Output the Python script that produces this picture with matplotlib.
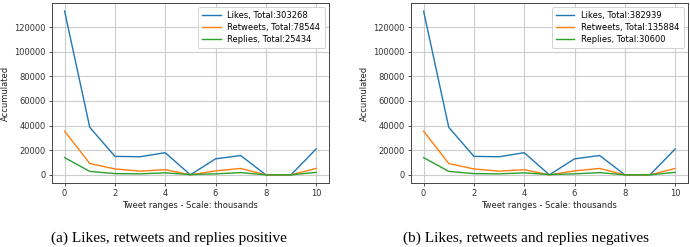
import matplotlib
matplotlib.use("Agg")
import matplotlib.pyplot as plt

x = list(range(11))
likes = [133000, 38600, 15000, 14700, 18000, 0, 13000, 15700, 0, 0, 21000]
retweets = [35500, 9200, 4800, 3000, 4200, 0, 3200, 5200, 0, 0, 5200]
replies = [14000, 2800, 1000, 800, 1600, 200, 800, 1800, 0, 0, 2000]

totals_a = ["303268", "78544", "25434"]
totals_b = ["382939", "135884", "30600"]
captions = ["(a) Likes, retweets and replies positive",
            "(b) Likes, retweets and replies negatives"]
xticks = [0, 2, 4, 6, 8, 10]
yticks = [0, 20000, 40000, 60000, 80000, 100000, 120000]

fig = plt.figure(figsize=(6.9, 2.47), dpi=100)
axes = [fig.add_axes([0.0754, 0.259, 0.401, 0.729]),
        fig.add_axes([0.5957, 0.259, 0.401, 0.729])]
caption_x = [169, 526]

for ax, totals, cap, cx in zip(axes, [totals_a, totals_b], captions, caption_x):
    ax.plot(x, likes, color="#1f77b4", lw=1.0, label=f"Likes, Total:{totals[0]}")
    ax.plot(x, retweets, color="#ff7f0e", lw=1.0, label=f"Retweets, Total:{totals[1]}")
    ax.plot(x, replies, color="#2ca02c", lw=1.0, label=f"Replies, Total:{totals[2]}")
    ax.set_xticks(xticks)
    ax.set_yticks(yticks)
    ax.grid(True, color="#cccccc", lw=0.8)
    ax.set_axisbelow(True)
    ax.tick_params(labelsize=6, length=2.5, width=0.6, pad=2, colors="#333333")
    for s in ax.spines.values():
        s.set_color("#444444")
        s.set_linewidth(0.7)
    ax.set_ylabel("Accumulated", fontsize=6, labelpad=3, color="#222222")
    ax.set_xlabel("Tweet ranges - Scale: thousands", fontsize=6, labelpad=2, color="#222222")
    leg = ax.legend(loc="upper right", fontsize=6, handlelength=2.2, borderpad=0.5,
                    labelspacing=0.35, framealpha=1, fancybox=True)
    leg.get_frame().set_linewidth(0.6)
    fig.text(cx / 690, 1 - 238 / 247, cap, ha="center", va="center",
             family="Liberation Serif", fontsize=11)

fig.savefig("out.png", dpi=100)
